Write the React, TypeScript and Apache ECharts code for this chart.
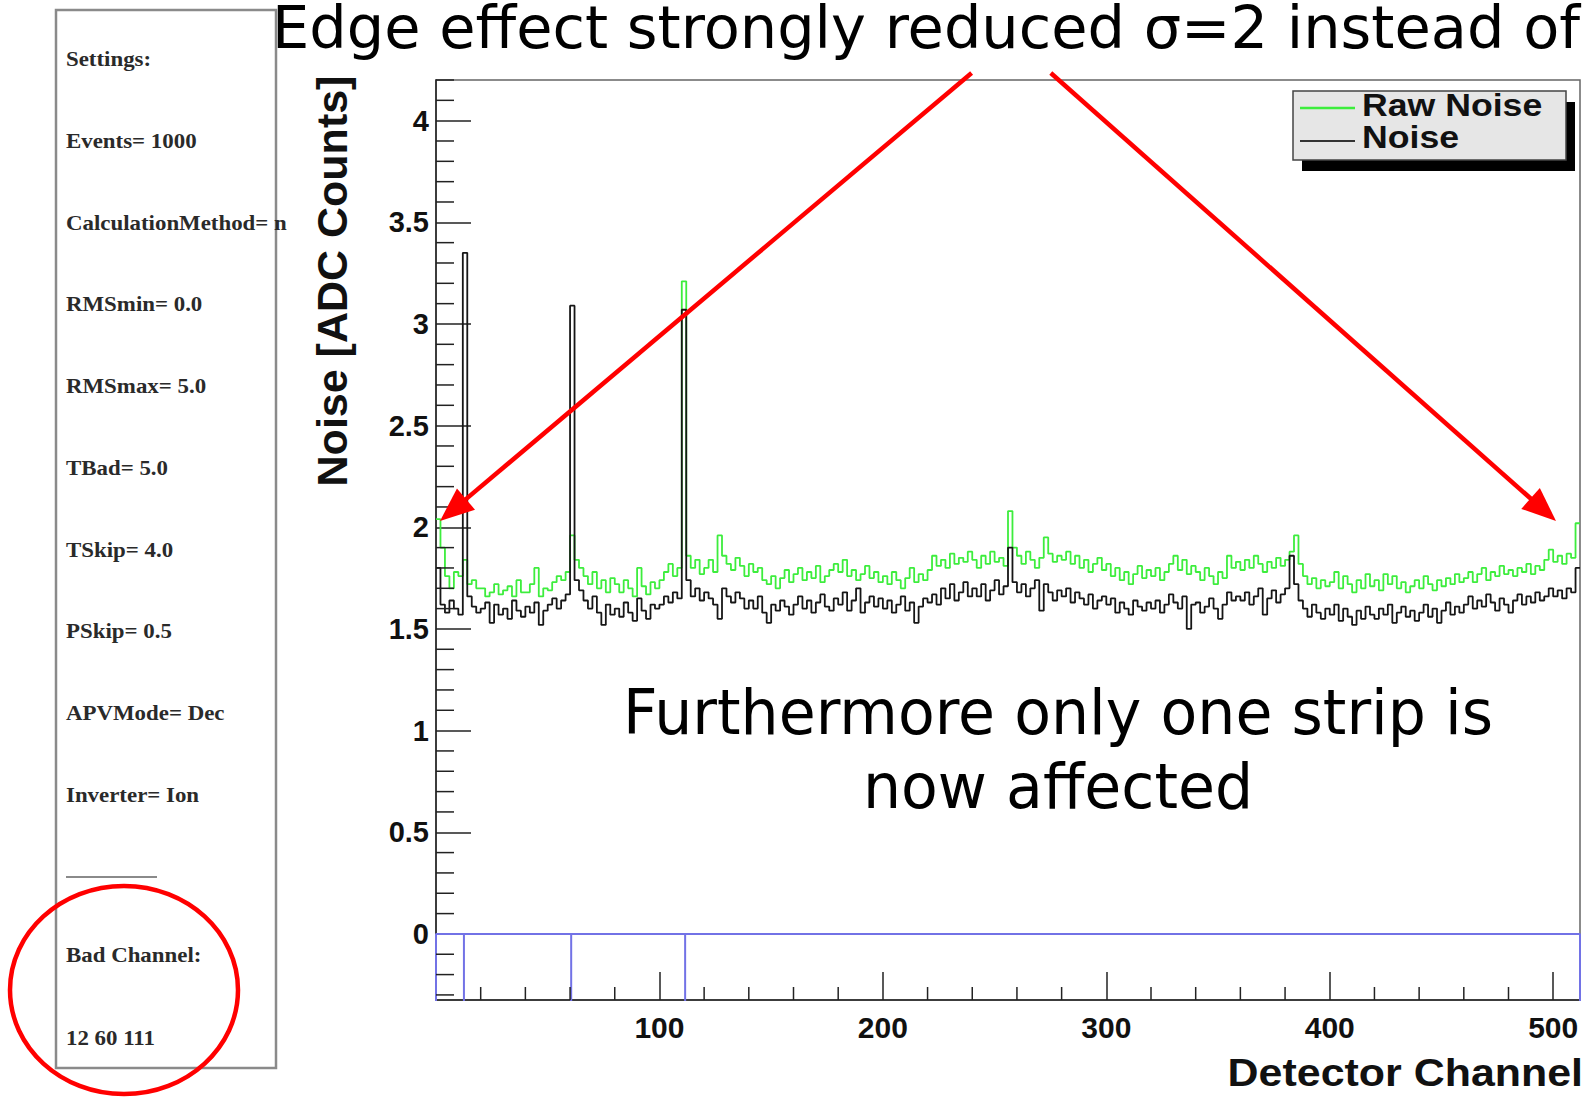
import React, { useEffect, useRef } from "react";
import * as echarts from "echarts";

// ---------- data ----------
const CHANNELS_PER_BIN = 2;

const rawNoise = [
  2.04, 1.90, 1.76, 1.70, 1.78, 1.76, 1.84, 1.72, 1.74, 1.70,
  1.70, 1.66, 1.68, 1.72, 1.67, 1.69, 1.71, 1.66, 1.74, 1.68,
  1.68, 1.72, 1.80, 1.66, 1.70, 1.69, 1.73, 1.76, 1.74, 1.78,
  1.96, 1.84, 1.80, 1.76, 1.72, 1.78, 1.70, 1.74, 1.68, 1.75,
  1.72, 1.68, 1.74, 1.70, 1.66, 1.80, 1.71, 1.67, 1.73, 1.70,
  1.74, 1.78, 1.82, 1.76, 1.80, 3.21, 1.86, 1.80, 1.84, 1.77,
  1.80, 1.84, 1.78, 1.96, 1.86, 1.82, 1.79, 1.85, 1.81, 1.76,
  1.82, 1.78, 1.80, 1.74, 1.72, 1.76, 1.70, 1.75, 1.79, 1.73,
  1.77, 1.80, 1.74, 1.78, 1.75, 1.81, 1.73, 1.76, 1.79, 1.82,
  1.78, 1.84, 1.76, 1.79, 1.74, 1.77, 1.81, 1.75, 1.78, 1.73,
  1.76, 1.72, 1.78, 1.74, 1.70, 1.75, 1.80, 1.73, 1.77, 1.74,
  1.79, 1.86, 1.81, 1.84, 1.80, 1.87, 1.82, 1.85, 1.83, 1.88,
  1.84, 1.80, 1.86, 1.82, 1.88, 1.83, 1.85, 1.81, 2.08, 1.90,
  1.86, 1.82, 1.88, 1.84, 1.80, 1.85, 1.95, 1.87, 1.83, 1.86,
  1.84, 1.88, 1.82, 1.86, 1.80, 1.84, 1.78, 1.82, 1.85, 1.79,
  1.82, 1.76, 1.80, 1.74, 1.78, 1.72, 1.77, 1.81, 1.75, 1.79,
  1.76, 1.80, 1.74, 1.78, 1.82, 1.86, 1.79, 1.84, 1.77, 1.81,
  1.78, 1.74, 1.80, 1.76, 1.72, 1.78, 1.75, 1.86, 1.80, 1.83,
  1.79, 1.84, 1.80, 1.86, 1.82, 1.78, 1.83, 1.80, 1.85, 1.81,
  1.84, 1.88, 1.96, 1.82, 1.76, 1.72, 1.75, 1.70, 1.74, 1.71,
  1.73, 1.78, 1.70, 1.76, 1.72, 1.68, 1.74, 1.70, 1.77, 1.71,
  1.74, 1.69, 1.77, 1.72, 1.76, 1.70, 1.73, 1.68, 1.71, 1.74,
  1.70, 1.76, 1.72, 1.69, 1.74, 1.71, 1.75, 1.72, 1.77, 1.73,
  1.75, 1.78, 1.73, 1.77, 1.80, 1.74, 1.78, 1.76, 1.81, 1.77,
  1.79, 1.76, 1.80, 1.78, 1.82, 1.77, 1.81, 1.79, 1.84, 1.89,
  1.83, 1.86, 1.82, 1.87, 1.85, 2.02,
];

const noise = [
  1.80, 1.62, 1.58, 1.64, 1.60, 1.57, 3.35, 1.66, 1.61, 1.58,
  1.60, 1.63, 1.53, 1.62, 1.57, 1.60, 1.55, 1.64, 1.59, 1.56,
  1.61, 1.58, 1.63, 1.52, 1.59, 1.62, 1.65, 1.60, 1.64, 1.67,
  3.09, 1.74, 1.69, 1.64, 1.60, 1.66, 1.58, 1.52, 1.62, 1.57,
  1.60, 1.56, 1.63, 1.58, 1.54, 1.65, 1.59, 1.55, 1.62, 1.60,
  1.62, 1.66, 1.63, 1.68, 1.65, 3.07, 1.74, 1.66, 1.70, 1.64,
  1.68, 1.65, 1.62, 1.55, 1.70, 1.66, 1.63, 1.68, 1.65, 1.60,
  1.64, 1.60, 1.66, 1.58, 1.53, 1.62, 1.59, 1.64, 1.61, 1.57,
  1.62, 1.66, 1.60, 1.64, 1.58, 1.63, 1.67, 1.61, 1.59, 1.65,
  1.62, 1.68, 1.59, 1.64, 1.70, 1.58, 1.63, 1.66, 1.61, 1.65,
  1.60, 1.64, 1.58, 1.62, 1.66, 1.59, 1.63, 1.53, 1.61, 1.65,
  1.63, 1.67, 1.62, 1.70, 1.65, 1.72, 1.64, 1.68, 1.73, 1.66,
  1.70, 1.66, 1.72, 1.64, 1.69, 1.74, 1.67, 1.71, 1.90, 1.73,
  1.68, 1.72, 1.66, 1.70, 1.74, 1.59, 1.72, 1.68, 1.64, 1.69,
  1.66, 1.70, 1.63, 1.68, 1.65, 1.62, 1.67, 1.60, 1.64, 1.66,
  1.62, 1.65, 1.58, 1.63, 1.60, 1.57, 1.64, 1.61, 1.59, 1.63,
  1.60, 1.64, 1.58, 1.62, 1.67, 1.63, 1.60, 1.66, 1.50, 1.62,
  1.63, 1.58, 1.61, 1.65, 1.60, 1.55, 1.62, 1.68, 1.64, 1.66,
  1.64, 1.68, 1.62, 1.66, 1.70, 1.57, 1.65, 1.69, 1.63, 1.67,
  1.70, 1.86, 1.72, 1.64, 1.60, 1.56, 1.62, 1.58, 1.55, 1.60,
  1.57, 1.62, 1.54, 1.60, 1.56, 1.52, 1.59, 1.55, 1.61, 1.57,
  1.55, 1.60, 1.57, 1.62, 1.53, 1.58, 1.61, 1.56, 1.59, 1.54,
  1.58, 1.62, 1.56, 1.60, 1.53, 1.59, 1.63, 1.57, 1.61, 1.58,
  1.62, 1.66, 1.60, 1.64, 1.61, 1.67, 1.63, 1.59, 1.65, 1.62,
  1.58, 1.64, 1.67, 1.62, 1.66, 1.63, 1.68, 1.64, 1.66, 1.70,
  1.66, 1.69, 1.65, 1.70, 1.68, 1.80,
];

const badChannels = [12, 60, 111];

const xMajorTicks = [100, 200, 300, 400, 500];
const yMajorTicks = [0, 0.5, 1, 1.5, 2, 2.5, 3, 3.5, 4];

const legendNames = ["Raw Noise", "Noise"];
const xAxisTitle = "Detector Channel";
const yAxisTitle = "Noise [ADC Counts]";
const titleText = "Edge effect strongly reduced σ=2 instead of";
const noteLines = ["Furthermore only one strip is", "now affected"];

const settingsLines = [
  "Settings:",
  "Events= 1000",
  "CalculationMethod= n",
  "RMSmin= 0.0",
  "RMSmax= 5.0",
  "TBad= 5.0",
  "TSkip= 4.0",
  "PSkip= 0.5",
  "APVMode= Dec",
  "Inverter= Ion",
];
const badChannelLines = ["Bad Channel:", "12 60 111"];

// ---------- layout ----------
const X_MIN = 0;
const X_MAX = 512;
const Y_MIN = -0.325;
const Y_MAX = 4.2;

const GREEN = "#3ded3d";
const BLACK = "#161616";
const BLUE = "#7272e6";
const RED = "#ff0000";
const AXIS = "#222";

function toSteps(values: number[]) {
  const pts: number[][] = values.map((v, i) => [i * CHANNELS_PER_BIN, v]);
  pts.push([values.length * CHANNELS_PER_BIN, values[values.length - 1]]);
  return pts;
}

function badChannelPath() {
  const pts: number[][] = [
    [X_MIN, -1],
    [X_MIN, 0],
  ];
  badChannels.forEach((c) => {
    pts.push([c + 0.5, 0], [c + 0.5, -1], [c + 0.5, 0]);
  });
  pts.push([X_MAX, 0], [X_MAX, -1]);
  return pts;
}

function minorTicks() {
  const out: number[][] = [];
  for (let v = 20; v < X_MAX; v += 20) if (v % 100 !== 0) out.push([0, v]);
  for (let k = -3; k <= 42; k++) if (k % 5 !== 0) out.push([1, k / 10]);
  return out;
}

function arrow(x1: number, y1: number, tx: number, ty: number) {
  const len = 34;
  const half = 14;
  const dx = tx - x1;
  const dy = ty - y1;
  const d = Math.sqrt(dx * dx + dy * dy);
  const ux = dx / d;
  const uy = dy / d;
  const bx = tx - ux * len;
  const by = ty - uy * len;
  const px = -uy;
  const py = ux;
  return [
    {
      type: "line",
      z: 100,
      shape: { x1, y1, x2: bx + ux * 2, y2: by + uy * 2 },
      style: { stroke: RED, lineWidth: 4.5 },
    },
    {
      type: "polygon",
      z: 100,
      shape: {
        points: [
          [tx, ty],
          [bx + px * half, by + py * half],
          [bx - px * half, by - py * half],
        ],
      },
      style: { fill: RED },
    },
  ];
}

function textEl(
  text: string,
  x: number,
  y: number,
  opts: { size: number; family: string; weight?: string; align?: string; color?: string; scaleX?: number; rotation?: number; z?: number }
) {
  return {
    type: "text",
    x,
    y,
    z: opts.z ?? 50,
    rotation: opts.rotation ?? 0,
    scaleX: opts.scaleX ?? 1,
    style: {
      text,
      fill: opts.color ?? "#000",
      fontSize: opts.size,
      fontFamily: opts.family,
      fontWeight: opts.weight ?? "normal",
      align: opts.align ?? "left",
      textAlign: opts.align ?? "left",
      verticalAlign: "middle",
      textVerticalAlign: "middle",
    },
  };
}

const SANS = "'Liberation Sans', Arial, sans-serif";
const SERIF = "'Liberation Serif', 'Times New Roman', serif";
const SLIDE = "'DejaVu Sans', sans-serif";

function buildGraphics() {
  const els: any[] = [];
  // settings panel
  els.push({
    type: "rect",
    z: 1,
    shape: { x: 56, y: 10, width: 220, height: 1058 },
    style: { fill: "#fff", stroke: "#8a8a8a", lineWidth: 2.5 },
  });
  settingsLines.forEach((t, i) => {
    els.push(textEl(t, 66, 59 + i * 81.7, { size: 22, family: SERIF, weight: "bold", color: "#2a2a2a", scaleX: 1.04 }));
  });
  els.push({
    type: "line",
    z: 2,
    shape: { x1: 66, y1: 877, x2: 157, y2: 877 },
    style: { stroke: "#8a8a8a", lineWidth: 2 },
  });
  badChannelLines.forEach((t, i) => {
    els.push(textEl(t, 66, 955 + i * 83, { size: 22, family: SERIF, weight: "bold", color: "#2a2a2a", scaleX: 1.04 }));
  });
  // red ellipse
  els.push({
    type: "ellipse",
    z: 100,
    shape: { cx: 124, cy: 990, rx: 114, ry: 104 },
    style: { fill: "none", stroke: RED, lineWidth: 4.5 },
  });
  // title
  els.push(textEl(titleText, 272, 27, { size: 59, family: SLIDE, z: 60 }));
  // note text
  els.push(textEl(noteLines[0], 1058, 712, { size: 62, family: SLIDE, align: "center", scaleX: 0.97 }));
  els.push(textEl(noteLines[1], 1058, 786, { size: 62, family: SLIDE, align: "center", scaleX: 0.97 }));
  // arrows
  els.push(...arrow(971.6, 73, 440, 521));
  els.push(...arrow(1050.8, 73, 1556, 521));
  // axis titles
  els.push(
    textEl(yAxisTitle, 332, 281, { size: 43, family: SANS, weight: "bold", align: "center", rotation: Math.PI / 2, color: "#111" })
  );
  els.push(textEl(xAxisTitle, 1583, 1073, { size: 38, family: SANS, weight: "bold", align: "right", scaleX: 1.13, color: "#111" }));
  // legend
  els.push({ type: "rect", z: 80, shape: { x: 1302, y: 102, width: 273, height: 69 }, style: { fill: "#000" } });
  els.push({
    type: "rect",
    z: 81,
    shape: { x: 1293, y: 91, width: 273, height: 69 },
    style: { fill: "#e6e6e6", stroke: "#444", lineWidth: 1.5 },
  });
  els.push({ type: "line", z: 82, shape: { x1: 1300, y1: 108, x2: 1355, y2: 108 }, style: { stroke: GREEN, lineWidth: 2.5 } });
  els.push({ type: "line", z: 82, shape: { x1: 1300, y1: 141, x2: 1355, y2: 141 }, style: { stroke: "#333", lineWidth: 2 } });
  els.push(textEl(legendNames[0], 1362, 105, { size: 31, family: SANS, weight: "bold", scaleX: 1.15, color: "#111", z: 83 }));
  els.push(textEl(legendNames[1], 1362, 137, { size: 31, family: SANS, weight: "bold", scaleX: 1.15, color: "#111", z: 83 }));
  return els;
}

export default function App() {
  const ref = useRef<HTMLDivElement>(null);

  useEffect(() => {
    if (!ref.current) return;
    const chart = echarts.init(ref.current, undefined, { renderer: "svg" });
    const option: any = {
      animation: false,
      backgroundColor: "#ffffff",
      grid: {
        left: 436,
        top: 80,
        width: 1144,
        height: 920,
        show: true,
        borderColor: "#666",
        borderWidth: 1.5,
        backgroundColor: "transparent",
        containLabel: false,
        outerBoundsMode: "none",
      },
      xAxis: {
        type: "value",
        min: X_MIN,
        max: X_MAX,
        interval: 100,
        axisLine: { show: true, onZero: false, lineStyle: { color: AXIS, width: 1.5 } },
        axisTick: { show: true, inside: true, length: 28, lineStyle: { color: AXIS, width: 1.5 } },
        axisLabel: {
          showMinLabel: false,
          showMaxLabel: false,
          fontSize: 30,
          fontWeight: "bold",
          fontFamily: SANS,
          color: "#111",
          margin: 12,
          formatter: (v: number) => (xMajorTicks.includes(v) ? String(v) : ""),
        },
        splitLine: { show: false },
      },
      yAxis: {
        type: "value",
        min: Y_MIN,
        max: Y_MAX,
        splitNumber: 9,
        axisLine: { show: true, onZero: false, lineStyle: { color: AXIS, width: 1.5 } },
        axisTick: { show: true, inside: true, length: 35, lineStyle: { color: AXIS, width: 1.5 } },
        axisLabel: {
          showMinLabel: false,
          showMaxLabel: false,
          fontSize: 29,
          fontWeight: "bold",
          fontFamily: SANS,
          color: "#111",
          margin: 7,
          formatter: (v: number) => (yMajorTicks.includes(v) ? String(v) : ""),
        },
        splitLine: { show: false },
      },
      series: [
        {
          name: legendNames[0],
          type: "line",
          step: "end",
          data: toSteps(rawNoise),
          symbol: "none",
          clip: true,
          lineStyle: { color: GREEN, width: 1.8 },
          z: 3,
        },
        {
          name: legendNames[1],
          type: "line",
          step: "end",
          data: toSteps(noise),
          symbol: "none",
          clip: true,
          lineStyle: { color: BLACK, width: 1.8 },
          z: 4,
        },
        {
          name: "Bad Channel",
          type: "line",
          data: badChannelPath(),
          symbol: "none",
          clip: true,
          lineStyle: { color: BLUE, width: 2 },
          z: 5,
        },
        {
          type: "custom",
          silent: true,
          z: 6,
          data: minorTicks(),
          renderItem: (_params: any, api: any) => {
            const kind = api.value(0);
            const v = api.value(1);
            if (kind === 0) {
              const p = api.coord([v, Y_MIN]);
              return {
                type: "line",
                shape: { x1: p[0], y1: p[1], x2: p[0], y2: p[1] - 13 },
                style: { stroke: AXIS, lineWidth: 1.5 },
              };
            }
            const p = api.coord([X_MIN, v]);
            return {
              type: "line",
              shape: { x1: p[0], y1: p[1], x2: p[0] + 18, y2: p[1] },
              style: { stroke: AXIS, lineWidth: 1.5 },
            };
          },
        },
      ],
      graphic: { elements: buildGraphics() },
    };
    chart.setOption(option);
    return () => chart.dispose();
  }, []);

  return (
    <div
      ref={ref}
      style={{ position: "fixed", left: 0, top: 0, width: 1592, height: 1097, background: "#fff" }}
    />
  );
}
